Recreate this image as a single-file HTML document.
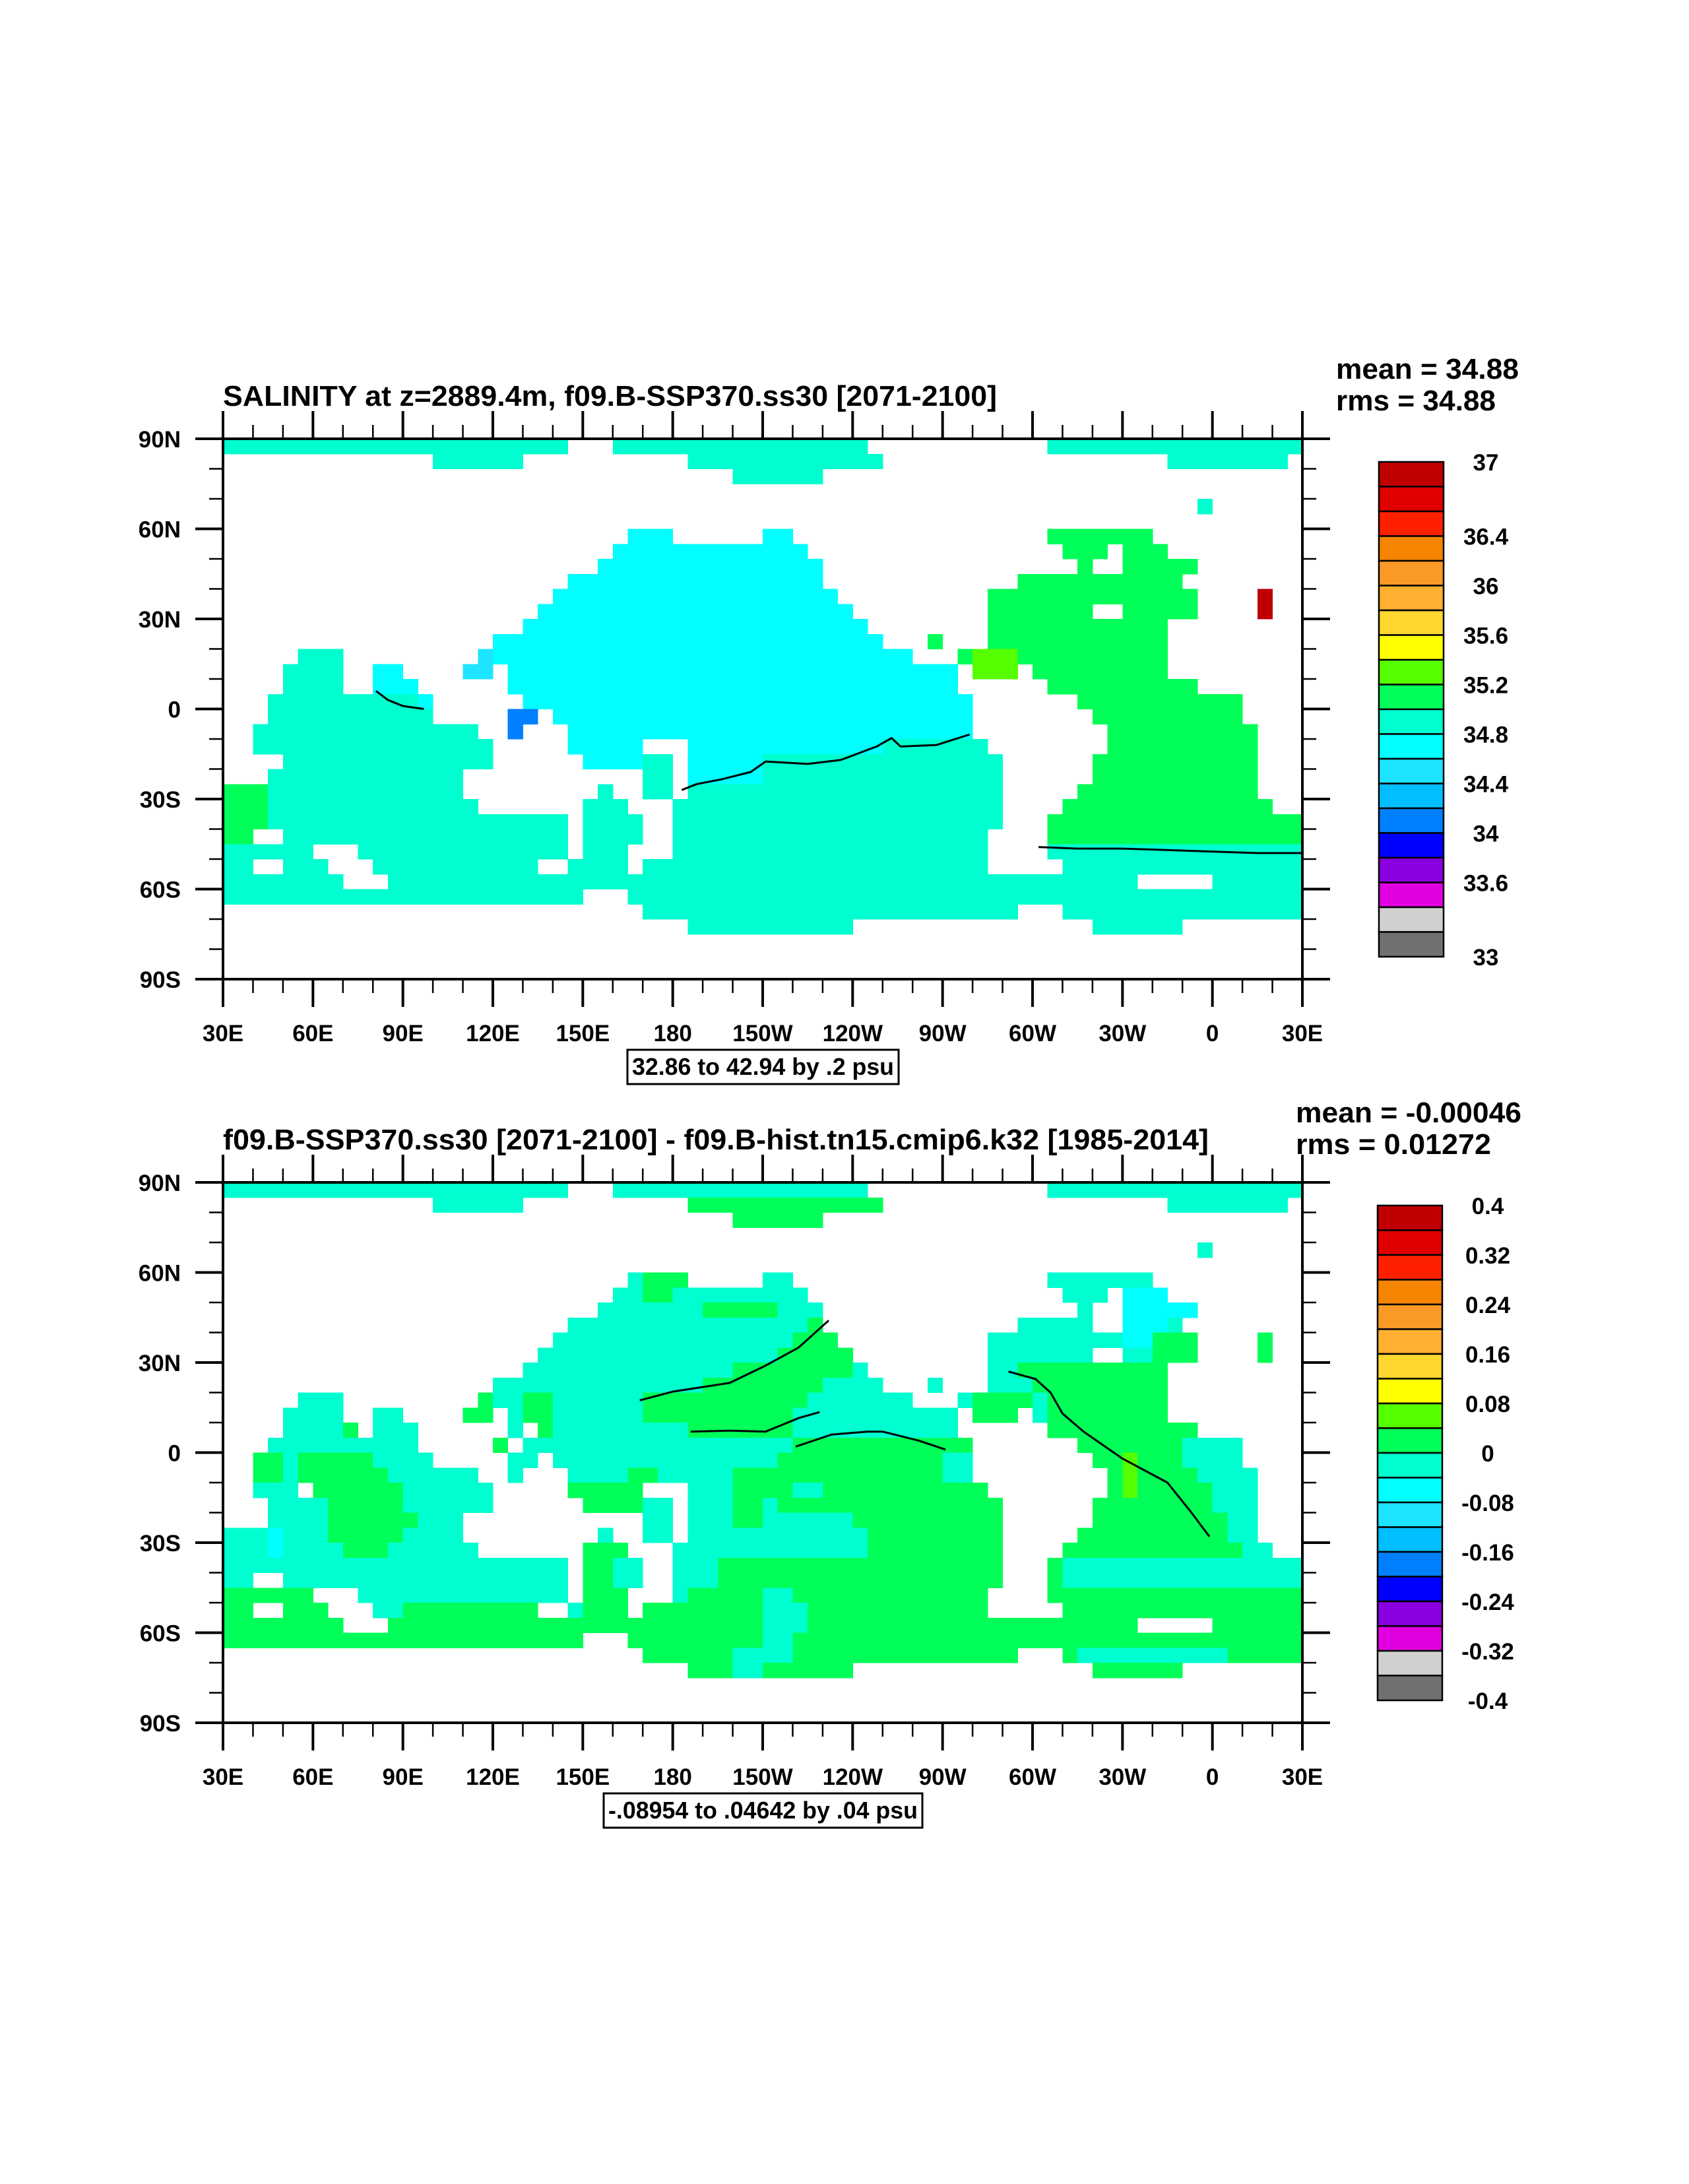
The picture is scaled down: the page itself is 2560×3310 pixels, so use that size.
<!DOCTYPE html>
<html><head><meta charset="utf-8"><title>Salinity maps</title>
<style>
html,body{margin:0;padding:0;background:#fff;}
svg{display:block;font-family:"Liberation Sans",sans-serif;font-weight:bold;}
</style></head>
<body>
<svg id="fig" xmlns="http://www.w3.org/2000/svg" width="2560" height="3310" viewBox="0 0 2560 3310">
<rect x="0" y="0" width="2560" height="3310" fill="#fff"/>
</svg>
<script>
const lonLabels=["30E","60E","90E","120E","150E","180","150W","120W","90W","60W","30W","0","30E"];
const latLabels=["90N","60N","30N","0","30S","60S","90S"];
const cbColors=["#C00000","#E00000","#FF2000","#F58400","#FA9A26","#FFB031","#FFD72E","#FFFF00","#56FF00","#00FF58","#00FFD0","#00FFFF","#1EE5FF","#00BEFF","#0080FF","#0000FF","#8A00E0","#E000E0","#D0D0D0","#707070"];
const cb1Labels=["37","36.4","36","35.6","35.2","34.8","34.4","34","33.6","33"];
const cb1Index=[0,3,5,7,9,11,13,15,17,20];
const cb2Labels=["0.4","0.32","0.24","0.16","0.08","0","-0.08","-0.16","-0.24","-0.32","-0.4"];
const cb2Index=[0,2,4,6,8,10,12,14,16,18,20];
const codeColors={t:"#00FFD0",c:"#00FFFF",g:"#00FF58",l:"#56FF00",b:"#0080FF",s:"#1EE5FF",r:"#C00000"};
const grid1=[
"t0-22 t26-35 t36-42 t55-71","t14-19 t31-35 t36-43 t63-70","t34-39","","t65","",
"c27-29 c36-37 g55-61","c26-35 c36-38 g56-58 g60-62","c25-39 g57 g60-64","c23-39 g53-63",
"c22-40 g51-64 r69","c21-41 g51-57 g60-64 r69","c20-42 g51-62","c18-43 g47 g51-62",
"t5-7 s17 c18-45 g49 l50-52 g53-62","t4-7 c10-11 s16-17 c19-48 l50-52 g54-62",
"t4-7 c10-12 c19-48 g55-64","t3-12 c13 c20-49 g57-67","t3-13 b19-20 c22-49 g58-67",
"t2-16 b19 c23-49 g59-68","t2-17 c23-27 c31-43 t44-50 g59-68",
"t4-17 c24-27 t28-29 c31-35 t36-51 g58-68","t3-15 t28-29 c31-35 t36-51 g58-68",
"g0-2 t3-15 t25 t28-29 t31-51 g57-68","g0-2 t3-16 t24-26 t30-51 g56-69",
"g0-2 t3-22 t24-27 t30-51 g55-71","g0-1 t4-22 t24-27 t30-50 g55-71",
"t0-5 t9-22 t24-26 t30-50 t55-71","t0-1 t4-6 t10-20 t23-26 t28-50 t56-71",
"t0-7 t11-60 t66-71","t0-23 t27-71","t28-52 t56-71","t31-41 t58-63","","",""
];
const grid2=[
"t0-22 t26-35 t36-42 t55-71","t14-19 g31-35 g36-43 t63-70","g34-39","","t65","",
"t27 g28-30 t36-37 t55-61","t26-27 g28-29 t30-38 t56-58 c60-62","t25-31 g32-36 t37-39 t57 c60-64",
"t23-38 g39 t53-57 c60-62 t63","t22-37 g38-40 t51-59 c60-61 g62-64 g69",
"t21-36 g37-41 t51-57 t60-61 g62-64 g69","t20-33 g34-41 t42 t51-52 g53-62",
"t18-31 g32-39 t40-43 t47 t51-53 g54-62",
"t5-7 g17 t18-19 g20-21 t22-27 g28-38 t39-45 t49 g50-53 t54 g55-62",
"t4-7 t10-11 g16-17 t19 g20-21 t22-27 g28-37 t38-48 g50-52 t54 g55-62",
"t4-7 g8 t10-12 t19 g21 t22-30 g31-37 t38-48 g55-64",
"t3-8 t9-12 g18 t20-37 g38-49 g57-63 t64-67",
"g2-3 t4 g5-9 t10-13 t19-20 t22-36 g37-47 t48-49 g58-59 l60 g61-63 t64-67",
"g2-3 t4 g5-10 t11-16 t19 t23-26 g27-28 t29-33 g34-47 t48-49 g59 l60 g61-64 t65-68",
"t2-4 g6-11 t12-17 g23-27 t31-33 g34-37 t38-39 g40-50 g59 l60 g61-65 t66-68",
"t3-6 g7-11 t12-17 g24-27 t28-29 t31-33 g34-35 t36 g37-51 g58-65 t66-68",
"t3-6 g7-12 t13-15 t28-29 t31-33 g34-35 t36-41 g42-51 g58-66 t67-68",
"t0-2 c3 t4-6 g7-11 t12-15 t25 t28-29 t31-42 g43-51 g57-66 t67-68",
"t0-2 c3 t4-7 g8-10 t11-16 g24-26 t30-42 g43-51 g56-67 t68-69",
"t0-22 g24-25 t26-27 t30-32 g33-51 g55 t56-71",
"t0-1 t4-22 g24-25 t26-27 t30-32 g33-51 g55 t56-71",
"g0-5 t9-22 g24-26 t30 g31-35 t36-37 g38-50 g55-71",
"g0-1 g4-6 t10-11 g12-20 t23 g24-26 g28-35 t36-38 g39-50 g56-71",
"g0-7 g11-35 t36-38 g39-60 g66-71","g0-23 g27-35 t36-37 g38-71",
"g28-33 t34-37 g38-52 g56 t57-66 g67-71","g31-33 t34-35 g36-41 g58-63","","",""
];
const contour1Lon=[[183,188,196,206,211,225,236,248,253,256,268,279],[302,315,330,345,360,375,390],[81,85,90,97]];
const contour1Lat=[[-27,-25,-23.5,-21,-17.5,-18.3,-17,-12.5,-9.7,-12.5,-12,-8.5],[-46,-46.5,-46.5,-47,-47.5,-48,-48],[6,3,1,0]];
const contour2Lon=[[169,180,199,211,222,232],[186,199,211,222,229],[221,233,245,250,262,271],[292,301,306,310,317,330,345,353,359]];
const contour2Lat=[[17.4,20.3,23.2,29,35,44],[7,7.3,7,11.5,13.5],[2,6,7,7,4,1],[27,24.5,20,13,7,-2,-10,-20,-28]];
const NS="http://www.w3.org/2000/svg";
const svg=document.getElementById("fig");
const X0=338,W=1636,H=819;
function mk(tag,attrs,parent){const e=document.createElementNS(NS,tag);for(const k in attrs)e.setAttribute(k,attrs[k]);(parent||svg).appendChild(e);return e;}
function lonX(col){return X0+col*W/72;}
function lonToX(lon){return X0+(lon-30)/360*W;}
function txt(parent,x,y,s,size,anchor,len){const t=mk("text",{x:x,y:y,"font-size":size,"text-anchor":anchor||"start",fill:"#000"},parent);if(len){t.setAttribute("textLength",len);t.setAttribute("lengthAdjust","spacingAndGlyphs");}t.textContent=s;return t;}
function panel(top,grid,cLon,cLat,title,titleLen,mean,rms,meanX,meanLen,rmsLen,cbLabels,cbIdx,cbTop,cbX,cbLabX,boxX,boxW,boxText,name){
  const g=mk("g",{});
  
  
  const latY=r=>top+r*H/36;
  const latToY=lat=>top+(90-lat)/180*H;
  const cells=mk("g",{"shape-rendering":"crispEdges"},g);
  
  
  grid.forEach((row,r)=>{
    if(!row)return;
    row.split(" ").forEach(run=>{
      const code=run[0];const p=run.slice(1).split("-");const a=+p[0],b=p.length>1?+p[1]:a;
      const rc=mk("rect",{x:lonX(a),y:latY(r),width:lonX(b+1)-lonX(a)+0.5,height:H/36+0.5,fill:codeColors[code]},cells);
      
      
    });
  });
  cLon.forEach((lons,k)=>{
    const pts=lons.map((lo,i)=>lonToX(lo).toFixed(1)+","+latToY(cLat[k][i]).toFixed(1)).join(" ");
    const pl=mk("polyline",{points:pts,fill:"none",stroke:"#000","stroke-width":3,"stroke-linejoin":"round"},g);
    
    
  });
  const fr=mk("rect",{x:X0,y:top,width:W,height:H,fill:"none",stroke:"#000","stroke-width":4},g);
  
  
  for(let i=0;i<=36;i++){
    const x=X0+i*W/36;const maj=i%3===0;const L=maj?42:21;const sw=maj?4:2.5;
    mk("line",{x1:x,y1:top,x2:x,y2:top-L,stroke:"#000","stroke-width":sw},g);
    mk("line",{x1:x,y1:top+H,x2:x,y2:top+H+L,stroke:"#000","stroke-width":sw},g);
  }
  for(let i=0;i<=18;i++){
    const y=top+i*H/18;const maj=i%3===0;const L=maj?42:21;const sw=maj?4:2.5;
    mk("line",{x1:X0,y1:y,x2:X0-L,y2:y,stroke:"#000","stroke-width":sw},g);
    mk("line",{x1:X0+W,y1:y,x2:X0+W+L,y2:y,stroke:"#000","stroke-width":sw},g);
  }
  lonLabels.forEach((s,i)=>{const t=txt(g,X0+i*W/12,top+H+94,s,35,"middle");});
  latLabels.forEach((s,i)=>{const t=txt(g,274,top+i*H/6+13,s,35,"end");});
  const tt=txt(g,X0,top-50,title,44,"start",titleLen);
  
  
  const mt=txt(g,meanX,top-91,mean,44,"start",meanLen);
  
  
  const rt=txt(g,meanX,top-43,rms,44,"start",rmsLen);
  
  
  const bh=37.5;
  const cb=mk("g",{},g);
  
  
  cbColors.forEach((c,i)=>{const r=mk("rect",{x:cbX,y:cbTop+i*bh,width:98,height:bh,fill:c,stroke:"#000","stroke-width":2.5},cb);});
  cbLabels.forEach((s,i)=>{const t=txt(cb,cbLabX,cbTop+cbIdx[i]*bh+13,s,35,"middle");});
  const bx=mk("rect",{x:boxX,y:top+H+107,width:boxW,height:52,fill:"#fff",stroke:"#000","stroke-width":3},g);
  
  
  const bt=txt(g,boxX+boxW/2,top+H+145,boxText,36,"middle",boxW-14);
  
  
}
panel(665,grid1,contour1Lon,contour1Lat,"SALINITY at z=2889.4m, f09.B-SSP370.ss30 [2071-2100]",1173,"mean = 34.88","rms = 34.88",2025,277,242,cb1Labels,cb1Index,700,2090,2252,951,411,"32.86 to 42.94 by .2 psu","top-panel");
panel(1792,grid2,contour2Lon,contour2Lat,"f09.B-SSP370.ss30 [2071-2100] - f09.B-hist.tn15.cmip6.k32 [1985-2014]",1494,"mean = -0.00046","rms = 0.01272",1964,342,296,cb2Labels,cb2Index,1827,2088,2255,915,483,"-.08954 to .04642 by .04 psu","bottom-panel");
</script>
</body></html>
